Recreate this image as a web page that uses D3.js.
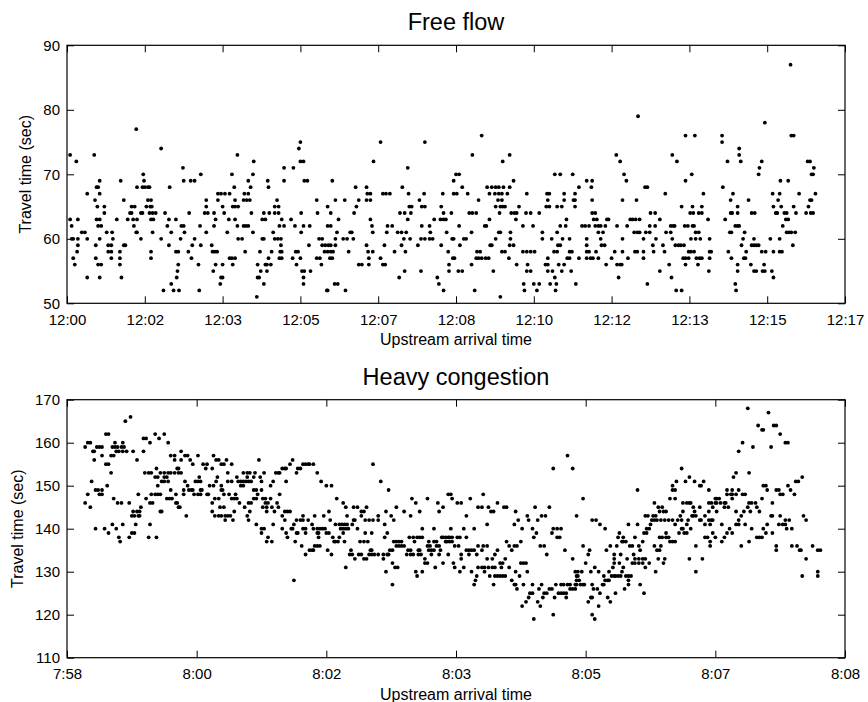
<!DOCTYPE html>
<html>
<head>
<meta charset="utf-8">
<script src="https://cdn.jsdelivr.net/npm/d3@7"></script>
<style>
  body { margin: 0; background: #fff; }
  text { font-family: "Liberation Sans", Arial, Helvetica, sans-serif; fill: #000; }
</style>
</head>
<body>
<div id="chart"></div>
<script>
//Free flow: [seconds after 12:00:00, travel time in sec]
var freeFlow = [
[4,73],[12,72],[4,63],[6,62],[6,60],[8,60],[8,57],[10,56],[14,63],[14,60],[14,59],[13,58],[19,61],[23,61],[26,67],[26,60],[26,54],[35,73],[36,66],[38,68],[40,68],[39,65],[38,63],[42,63],[40,62],[44,62],[42,67],[42,69],[37,59],[37,57],[40,56],[44,56],[42,60],[42,54],[48,65],[48,64],[51,61],[53,59],[57,59],[53,58],[57,58],[58,61],[59,60],[57,57],[64,63],[69,69],[68,58],[68,57],[68,56],[70,54],[73,66],[73,59],[75,59],[78,63],[81,64],[83,64],[83,65],[87,65],[85,63],[90,63],[86,62],[89,61],[90,61],[89,77],[90,68],[95,64],[97,64],[95,60],[97,68],[100,68],[104,68],[106,68],[98,70],[99,69],[102,65],[107,65],[109,65],[104,66],[108,66],[106,64],[110,64],[114,64],[108,63],[111,63],[110,61],[108,58],[108,57],[121,74],[121,60],[126,64],[124,52],[129,62],[131,63],[132,68],[134,61],[131,59],[134,53],[137,52],[140,63],[140,58],[143,58],[141,54],[142,55],[143,56],[144,52],[146,60],[147,62],[150,62],[149,71],[150,69],[151,61],
[159,69],[164,69],[157,64],[156,58],[160,57],[161,59],[164,60],[169,56],[170,52],[171,62],[172,70],[172,59],[177,64],[181,64],[179,65],[179,66],[179,61],[186,59],[187,58],[190,58],[193,58],[188,55],[189,64],[189,62],[191,63],[191,56],[194,66],[194,67],[198,67],[198,54],[200,54],[197,53],[200,65],[200,56],[202,64],[203,67],[209,67],[206,61],[208,63],[209,57],[212,57],[212,70],[213,65],[216,65],[220,65],[213,56],[215,68],[216,66],[216,57],[216,63],[219,73],[219,62],[220,60],[225,60],[227,62],[230,62],[233,62],[227,66],[231,66],[235,66],[228,67],[233,67],[229,58],[233,69],[236,68],[237,64],[239,70],[240,72],[239,61],[244,51],[245,56],[245,54],[247,54],[248,58],[249,55],[251,60],[253,60],[251,63],[255,63],[253,53],[253,64],[255,56],[257,56],[257,55],[258,69],[259,68],[259,57],[260,64],[262,56],[263,58],[265,61],[267,64],[272,64],[267,65],[272,65],[267,60],[271,60],[275,60],[270,66],[273,62],[274,58],[276,58],[273,57],[276,57],[275,59],[276,63],[279,69],[279,62],[279,71],[288,63],[290,57],[291,71],[293,62],[294,58],[297,58],[295,56],[298,74],[300,75],[300,72],[304,72],[300,57],[301,64],[301,61],[302,55],[305,55],[304,54],[304,53],[304,62],[305,69],[309,69],[311,59],[312,62],[313,55],
[321,66],[322,64],[324,60],[328,60],[321,57],[325,57],[327,56],[328,59],[332,59],[336,59],[339,59],[331,58],[335,58],[339,58],[342,58],[334,52],[335,52],[335,65],[335,62],[339,62],[338,57],[341,57],[339,64],[341,69],[345,66],[345,60],[345,59],[344,53],[348,53],[347,61],[349,63],[357,66],[355,60],[360,60],[358,52],[362,58],[364,61],[366,61],[368,60],[369,64],[371,68],[372,65],[375,66],[375,56],[379,56],[385,68],[385,66],[390,66],[386,67],[390,67],[385,59],[387,58],[393,58],[388,57],[388,56],[390,63],[392,62],[393,61],[394,72],[403,75],[403,57],[406,56],[409,56],[406,67],[410,67],[415,67],[408,59],[411,61],[412,62],[418,62],[421,58],[425,61],[430,61],[436,61],[427,54],[428,64],[434,64],[431,68],[430,59],[433,60],[434,55],[435,58],[438,71],[438,63],[439,67],[440,65],[443,65],[441,60],[442,64],[451,59],[453,66],[455,60],[460,60],[455,55],[456,65],[460,65],[456,62],[459,67],[460,75],[466,62],[467,61],[466,60],[470,60],[472,63],[476,54],[478,53],[480,63],[484,63],[481,65],[481,59],[483,67],[484,52],[484,64],
[487,63],[488,61],[490,58],[491,56],[491,55],[494,64],[495,60],[497,60],[496,57],[498,57],[497,69],[497,67],[501,67],[500,70],[504,70],[503,55],[508,55],[504,62],[505,59],[508,68],[510,60],[513,60],[515,67],[517,64],[521,64],[526,64],[520,61],[520,56],[521,73],[524,52],[526,57],[529,57],[533,57],[538,57],[542,57],[527,58],[531,58],[529,66],[533,76],[537,62],[539,62],[540,68],[543,67],[543,63],[544,59],[546,59],[546,68],[551,68],[555,68],[561,68],[569,68],[548,55],[550,67],[555,67],[559,67],[566,67],[551,65],[557,65],[560,65],[563,65],[551,60],[554,66],[559,66],[555,61],[557,61],[556,64],[557,51],[559,58],[563,58],[560,72],[568,57],[569,73],[570,61],[570,60],[569,59],[574,59],[571,64],[575,64],[574,69],[577,63],[578,64],[578,56],[581,65],[586,58],[586,62],[587,53],[588,52],[590,64],[596,64],[591,67],[591,55],[596,55],[592,56],[591,58],[596,58],[601,58],[599,62],[600,53],[604,52],[607,64],[607,53],[611,61],[611,60],[615,56],[618,56],[617,67],[620,67],[616,65],[620,65],[618,66],[618,57],[618,55],[624,55],[621,53],[623,60],[626,58],[630,58],[627,70],[634,70],[627,54],[629,53],[628,52],[630,65],[636,65],[630,61],[631,59],[634,59],[632,56],[634,62],[641,62],[636,55],[637,60],[639,67],[639,66],[639,56],[642,63],[643,57],[646,57],[646,60],[646,58],[649,58],[648,55],[650,70],[651,66],[653,67],[654,53],
[653,66],[653,65],[658,68],[658,57],[662,62],[666,62],[671,62],[668,60],[668,59],[668,58],[671,58],[668,57],[673,57],[676,57],[683,57],[668,69],[675,69],[674,68],[675,66],[675,64],[679,64],[677,63],[681,63],[679,62],[683,62],[686,62],[692,62],[680,58],[683,61],[689,61],[686,60],[687,59],[691,59],[693,56],[694,63],[696,63],[700,57],[704,58],[706,73],[707,62],[707,56],[711,56],[713,56],[709,54],[711,72],[714,66],[714,60],[714,58],[716,70],[719,69],[720,62],[721,57],[724,63],[727,63],[731,63],[736,63],[729,61],[733,61],[730,58],[733,58],[732,66],[734,79],[736,61],[741,58],[741,57],[741,60],[743,68],[746,68],[744,61],[749,61],[746,53],[749,62],[756,62],[750,64],[756,64],[754,58],[753,59],[757,60],[762,63],[762,55],[766,59],[768,58],[769,67],[770,61],[774,56],[776,62],[779,62],[781,62],[776,61],[777,54],[778,73],[778,60],[782,59],[786,59],[789,59],[793,59],[783,52],[790,52],[784,72],[790,65],[792,57],[795,57],[799,57],[795,76],[807,76],[795,69],[794,62],[798,62],[804,62],[806,62],[795,56],[799,58],[802,58],[801,64],[805,64],[802,60],[808,60],[814,60],[803,70],[804,65],[806,58],[808,61],[812,61],[809,57],[813,57],[816,57],[811,56],[812,64],[816,64],[816,65],[818,67],
[824,63],[826,60],[826,58],[828,58],[826,57],[825,55],[842,76],[842,75],[843,68],[846,63],[849,72],[850,58],[852,61],[854,61],[853,64],[855,64],[853,66],[854,57],[856,67],[859,62],[862,62],[864,62],[859,53],[860,52],[862,65],[862,64],[862,56],[862,55],[864,74],[864,73],[866,72],[867,59],[869,60],[870,57],[872,57],[871,61],[873,58],[876,66],[879,56],[880,64],[884,64],[880,59],[883,59],[886,59],[889,59],[883,60],[883,55],[886,55],[889,70],[890,71],[893,72],[893,58],[898,58],[894,55],[897,55],[896,56],[897,78],[904,60],[906,55],[907,67],[908,65],[908,58],[908,54],[911,64],[913,64],[914,66],[916,67],[916,60],[916,58],[919,58],[917,69],[918,65],[920,62],[922,64],[925,64],[924,63],[927,63],[925,61],[928,61],[931,61],[936,61],[927,69],[930,87],[931,76],[934,76],[933,59],[934,65],[937,64],[941,67],[950,64],[956,64],[959,64],[952,72],[955,72],[953,65],[955,66],[957,66],[957,70],[959,70],[960,71],[962,67]
];

//Heavy congestion: [seconds after 7:58:20, travel time in sec]
var heavyCongestion = [
[14,159],[16,160],[18,160],[14,146],[16,148],[18,145],[19,151],[20,158],[21,158],[21,156],[22,149],[24,149],[23,159],[25,159],[27,159],[22,140],[25,148],[27,148],[27,157],[27,149],[29,140],[30,155],[32,155],[30,162],[32,162],[31,150],[32,139],[34,153],[34,157],[36,157],[35,159],[37,159],[39,159],[42,159],[44,159],[35,141],[36,147],[37,160],[38,158],[40,158],[38,140],[39,146],[42,146],[40,138],[41,137],[43,160],[43,141],[43,158],[46,158],[45,165],[48,138],[49,166],[48,146],[50,143],[52,143],[55,143],[56,143],[51,158],[50,139],[52,139],[51,144],[54,144],[56,144],[53,141],[54,156],[55,148],[57,145],[59,161],[61,161],[59,158],[60,153],[63,153],[65,153],[61,147],[63,138],[64,160],[64,146],[66,146],[64,141],[65,148],[68,148],[70,148],[72,148],[68,162],[68,152],[70,152],[69,154],[69,138],[70,150],[71,161],[72,144],[73,144],[72,153],[75,153],[78,153],[80,153],[83,153],[73,151],[75,151],[78,151],[75,162],[75,152],[77,152],[77,147],[79,147],[81,147],[78,160],[80,149],[80,157],[83,157],[83,156],[84,146],[85,146],[84,148],[85,154],[86,154],[86,145],[87,145],[86,153],[88,153],[88,158],[88,156],[90,149],[90,148],[91,151],[92,143],[91,157],
[93,157],[95,156],[97,155],[93,150],[94,149],[96,149],[97,149],[98,148],[101,148],[103,148],[99,151],[101,151],[103,151],[101,157],[102,152],[103,149],[104,149],[105,155],[108,155],[107,154],[108,148],[109,148],[110,150],[113,150],[112,154],[112,146],[113,157],[112,144],[114,143],[117,143],[119,143],[122,143],[124,143],[126,143],[114,147],[117,147],[115,156],[117,156],[115,151],[116,152],[118,145],[121,145],[119,150],[119,149],[120,149],[119,155],[121,155],[121,148],[122,142],[123,156],[124,153],[124,151],[127,151],[125,148],[127,147],[129,147],[127,155],[128,142],[129,144],[130,148],[131,152],[131,147],[132,151],[134,151],[136,151],[138,151],[140,151],[133,146],[134,150],[136,150],[136,153],[139,153],[137,145],[139,152],[139,143],[140,146],[142,146],[140,142],[141,144],[141,153],[142,151],[144,152],[144,147],[146,147],[144,149],[146,149],[145,153],[146,141],[147,148],[148,156],[149,152],[150,151],[150,139],[150,149],[150,140],[152,140],[151,147],[153,147],[151,145],[154,145],[152,153],[153,146],[155,146],[154,144],[154,137],[158,137],[155,138],[157,150],[157,147],[158,145],[159,141],[159,151],[160,144],[161,153],[163,153],[164,153],[162,146],[163,145],[164,148],[166,154],[168,154],[169,154],[166,143],[166,140],[168,142],[168,144],[170,144],[169,139],[169,151],[170,138],[172,155],[172,144],[173,140],[174,140],[174,156],[175,141],[175,128],[176,137],[177,153],[177,142],[178,154],[180,154],[177,139],[178,139],[180,142],[182,142],[181,136],[182,155],[184,155],[186,155],[187,155],[190,155],[182,140],[184,140],[182,143],[184,139],[184,134],[186,142],[187,135],[189,135],[190,135],[189,141],[190,140],[191,143],
[193,153],[193,140],[195,140],[193,139],[194,139],[194,138],[191,136],[193,136],[195,136],[196,151],[198,143],[197,140],[199,140],[200,150],[204,150],[200,139],[202,139],[201,135],[202,144],[203,142],[204,134],[205,138],[206,137],[207,137],[209,137],[208,147],[207,141],[210,141],[212,141],[214,141],[216,141],[210,138],[211,140],[213,140],[215,140],[217,140],[213,146],[213,139],[214,137],[215,145],[215,131],[216,143],[218,134],[220,134],[220,141],[219,135],[221,142],[222,142],[221,145],[224,145],[222,133],[224,140],[225,134],[227,134],[226,137],[229,137],[227,144],[229,144],[227,143],[229,133],[231,133],[230,142],[233,142],[230,139],[231,145],[232,137],[234,135],[235,135],[233,134],[235,134],[235,139],[236,155],[236,142],[237,134],[240,134],[240,142],[240,143],[242,151],[244,134],[247,134],[248,134],[244,133],[245,138],[245,141],[246,130],[246,144],[247,139],[248,149],[249,135],[251,135],[250,143],[251,127],[251,132],[252,142],[252,137],[254,137],[256,137],[253,131],[255,131],[254,136],[256,136],[258,136],[260,136],[254,145],[258,137],[260,144],[263,135],[265,135],[262,134],[265,134],[267,134],[264,138],[267,138],[265,143],[266,147],[268,137],[269,130],[269,146],[270,129],[270,138],[272,138],[274,138],[271,135],[272,135],[271,134],[273,134],[272,144],[274,140],[274,130],[276,133],[276,132],[278,132],[278,136],[280,136],[278,147],[279,137],[279,135],[281,135],[283,135],[281,134],[283,137],[285,137],[283,140],[284,131],[285,136],[287,136],[286,146],[287,144],[287,134],[288,135],[289,138],[290,138],[290,145],[290,132],
[294,148],[296,148],[297,147],[301,146],[304,146],[311,147],[321,148],[308,143],[296,140],[292,138],[294,138],[295,138],[297,138],[301,138],[303,138],[306,140],[308,138],[314,140],[292,137],[293,137],[295,137],[297,137],[299,136],[302,136],[294,134],[298,132],[299,131],[303,130],[304,134],[304,133],[306,131],[308,135],[310,135],[310,134],[312,135],[314,135],[312,130],[314,127],[315,128],[316,129],[316,134],[317,131],[320,131],[322,131],[325,131],[328,131],[330,131],[317,136],[317,145],[320,145],[320,135],[321,136],[324,136],[322,130],[324,141],[325,145],[326,129],[327,144],[329,144],[324,133],[328,133],[329,127],[330,134],[330,129],[332,129],[334,129],[336,129],[338,129],[332,135],[332,146],[334,132],[336,132],[335,131],[337,145],[339,145],[338,133],[339,137],[341,131],[341,136],[343,135],[343,128],[345,127],[346,127],[345,141],[345,136],[347,136],[346,144],[346,130],[347,126],[348,142],[349,129],[350,137],[350,132],[352,132],[354,132],[351,140],[351,122],[352,127],[354,123],[355,143],[355,130],[356,124],[356,142],[357,125],[359,125],[359,140],[359,127],[360,138],[360,119],[361,145],[362,139],[363,123],[363,142],[364,126],[365,122],[366,143],[369,143],[365,136],[368,136],[366,127],[367,124],[368,125],[370,125],[370,134],[372,145],[372,126],[374,126],[374,139],[375,120],[375,140],[378,140],[376,124],[377,127],[381,127],[383,127],[386,127],[388,127],[378,138],[380,138],[379,125],[381,140],[381,125],[383,125],[385,125],[384,135],[385,124],[388,126],[390,133],[390,126],[392,126],[386,157],[375,154],[390,154],[392,130],[393,129],[394,129],[393,143],
[394,130],[393,128],[395,128],[392,127],[393,127],[396,127],[398,127],[399,127],[397,130],[398,147],[398,136],[400,132],[402,134],[402,123],[404,124],[405,124],[403,135],[404,130],[405,127],[405,142],[408,142],[405,120],[407,119],[406,126],[409,126],[407,131],[410,130],[410,122],[411,141],[411,125],[413,127],[414,127],[414,129],[415,140],[415,128],[417,128],[418,128],[416,135],[417,124],[418,130],[419,136],[419,123],[420,129],[422,129],[423,129],[425,129],[427,129],[421,131],[422,133],[422,134],[422,132],[423,125],[424,136],[425,138],[426,139],[426,132],[427,134],[428,137],[429,137],[431,137],[428,130],[429,131],[429,138],[430,126],[431,129],[433,129],[435,129],[432,133],[433,141],[433,128],[433,127],[434,136],[436,136],[436,132],[438,132],[441,132],[444,132],[437,134],[438,138],[438,133],[441,133],[444,133],[446,133],[440,149],[440,141],[441,136],[442,135],[442,127],[444,137],[445,139],[447,139],[445,125],[446,131],[446,143],[448,143],[447,140],[449,140],[449,132],[450,141],[451,142],[453,142],[455,142],[458,142],[461,142],[464,142],[467,142],[452,143],[454,143],[453,136],[453,146],[454,130],[455,135],[457,135],[456,133],[456,145],[459,145],[457,144],[457,138],[459,138],[462,138],[458,136],[460,144],[462,144],[460,132],[461,133],[462,139],[464,138],[465,147],[469,147],[465,137],[467,137],[469,137],[467,149],[469,149],[467,150],[469,141],[470,151],[471,142],[474,142],[472,139],[473,143],[474,140],[475,140],[474,154],[475,144],[475,146],[478,146],[480,146],[481,146],[476,139],[478,139],[477,151],[478,141],[479,142],[480,152],[480,133],[481,140],[482,143],[483,143],[485,143],[483,145],[484,144],[484,151],[485,130],[485,136],[488,145],[488,142],[489,142],[488,150],[489,150],[490,133],[491,151],[492,143],[492,138],[494,138],
[495,149],[495,146],[495,144],[495,142],[497,142],[498,142],[492,141],[496,141],[496,137],[496,136],[498,139],[498,145],[497,146],[500,146],[501,146],[504,146],[507,146],[508,146],[500,138],[500,147],[501,147],[503,147],[501,144],[505,141],[505,137],[507,145],[510,145],[507,138],[509,149],[513,149],[509,148],[512,148],[513,148],[509,139],[513,139],[511,140],[513,147],[514,152],[516,153],[516,144],[516,148],[516,141],[518,141],[518,142],[518,149],[518,158],[520,136],[520,143],[521,148],[523,148],[521,160],[522,144],[523,141],[525,145],[525,168],[526,146],[528,146],[531,146],[526,153],[526,137],[527,144],[528,140],[529,159],[532,145],[532,138],[534,138],[536,138],[533,164],[534,144],[536,163],[537,163],[536,147],[537,140],[537,150],[539,150],[539,139],[540,149],[541,167],[540,141],[543,143],[544,143],[543,159],[544,139],[544,146],[545,164],[547,164],[547,136],[547,135],[547,149],[549,149],[549,141],[552,141],[554,141],[550,148],[552,148],[550,162],[550,143],[554,142],[557,142],[554,160],[556,160],[555,140],[556,150],[558,149],[559,136],[559,140],[561,148],[562,151],[564,151],[563,136],[565,135],[566,135],[567,152],[567,129],[568,143],[570,142],[570,133],[575,136],[579,129],[579,130],[579,135],[581,135]
];

//Axis ticks
var freeXTicks = [0,100,200,300,400,500,600,700,800,900,1000];
var freeXLabels = ["12:00","12:02","12:03","12:05","12:07","12:08","12:10","12:12","12:13","12:15","12:17"];
var freeYTicks = [50,60,70,80,90];
var heavyXTicks = [0,100,200,300,400,500,600];
var heavyXLabels = ["7:58","8:00","8:02","8:03","8:05","8:07","8:08"];
var heavyYTicks = [110,120,130,140,150,160,170];

var width = 868, height = 702;

var svg = d3.select("#chart").append("svg")
    .attr("width", width)
    .attr("height", height);

function drawPanel(opt) {
    var x = d3.scaleLinear().domain(opt.xDomain).range([opt.left, opt.right]);
    var y = d3.scaleLinear().domain(opt.yDomain).range([opt.bottom, opt.top]);
    var g = svg.append("g");
    var tick = 7;

    //points
    g.append("g")
        .selectAll("circle")
        .data(opt.data)
        .enter().append("circle")
        .attr("cx", function (d) { return x(d[0]); })
        .attr("cy", function (d) { return y(d[1]); })
        .attr("r", 1.9)
        .style("fill", "#000");

    //bottom axis with labels, ticks pointing inward
    var xb = g.append("g")
        .attr("transform", "translate(0," + opt.bottom + ")")
        .call(d3.axisBottom(x).tickValues(opt.xTicks)
            .tickFormat(function (d, i) { return opt.xLabels[i]; })
            .tickSizeInner(-tick).tickSizeOuter(0).tickPadding(11));
    //top axis, ticks only
    var xt = g.append("g")
        .attr("transform", "translate(0," + opt.top + ")")
        .call(d3.axisTop(x).tickValues(opt.xTicks).tickFormat("")
            .tickSizeInner(-tick).tickSizeOuter(0));
    //left axis with labels
    var yl = g.append("g")
        .attr("transform", "translate(" + opt.left + ",0)")
        .call(d3.axisLeft(y).tickValues(opt.yTicks)
            .tickSizeInner(-tick).tickSizeOuter(0).tickPadding(7));
    //right axis, ticks only
    var yr = g.append("g")
        .attr("transform", "translate(" + opt.right + ",0)")
        .call(d3.axisRight(y).tickValues(opt.yTicks).tickFormat("")
            .tickSizeInner(-tick).tickSizeOuter(0));

    [xb, xt, yl, yr].forEach(function (a) {
        a.select(".domain").remove();
        a.selectAll("line").attr("stroke", "#000");
        a.selectAll("text")
            .style("font-family", "'Liberation Sans', Arial, sans-serif")
            .style("font-size", "15px")
            .attr("fill", "#000");
    });

    //box
    g.append("rect")
        .attr("x", opt.left).attr("y", opt.top)
        .attr("width", opt.right - opt.left)
        .attr("height", opt.bottom - opt.top)
        .attr("fill", "none")
        .attr("stroke", "#000")
        .attr("stroke-width", 1.2);

    //title
    g.append("text")
        .attr("x", (opt.left + opt.right) / 2)
        .attr("y", opt.top - 15)
        .attr("text-anchor", "middle")
        .style("font-size", "23.5px")
        .text(opt.title);

    //x label
    g.append("text")
        .attr("x", (opt.left + opt.right) / 2)
        .attr("y", opt.bottom + 42)
        .attr("text-anchor", "middle")
        .style("font-size", "16px")
        .text("Upstream arrival time");

    //y label
    g.append("text")
        .attr("transform", "translate(" + opt.ylabelX + "," + ((opt.top + opt.bottom) / 2) + ") rotate(-90)")
        .attr("text-anchor", "middle")
        .style("font-size", "16px")
        .text("Travel time (sec)");
}

drawPanel({
    data: freeFlow,
    title: "Free flow",
    xDomain: [0, 1000], yDomain: [50, 90],
    xTicks: freeXTicks, xLabels: freeXLabels, yTicks: freeYTicks,
    left: 67, right: 845, top: 45.3, bottom: 303.3,
    ylabelX: 31
});

drawPanel({
    data: heavyCongestion,
    title: "Heavy congestion",
    xDomain: [0, 600], yDomain: [110, 170],
    xTicks: heavyXTicks, xLabels: heavyXLabels, yTicks: heavyYTicks,
    left: 67, right: 845, top: 399.7, bottom: 657.7,
    ylabelX: 23
});
</script>
</body>
</html>
